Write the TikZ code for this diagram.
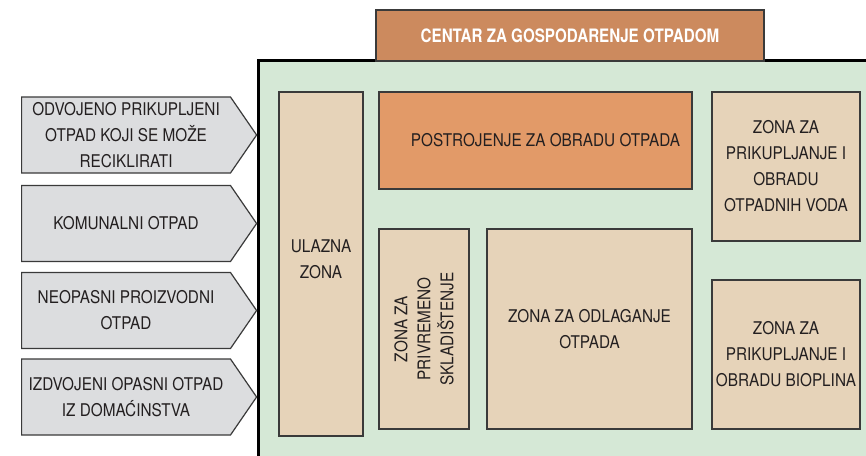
\documentclass[tikz,border=0pt]{standalone}
\usepackage{fontspec}
\setmainfont{TeX Gyre Heros}[FakeStretch=0.875]
\newfontfamily\headfont{TeX Gyre Heros}[FakeStretch=0.82]
\usetikzlibrary{shapes.symbols}
\definecolor{site green}{HTML}{D5E8D6}
\definecolor{zone beige}{HTML}{E6D3B9}
\definecolor{plant orange}{HTML}{E29A68}
\definecolor{header brown}{HTML}{CC8A5E}
\definecolor{waste gray}{HTML}{DCDDDF}
\definecolor{zone edge}{HTML}{3A3A3A}
\definecolor{ink}{HTML}{231F20}
\tikzset{
  zone/.style={draw=zone edge, line width=1.2pt, fill=zone beige, text=ink, align=center, inner sep=0pt, font=\fontsize{17.5}{26}\selectfont},
  plant/.style={zone, fill=plant orange}
  }
\tikzstyle{site} = [draw=black, line width=3pt, fill=site green]
\tikzstyle{header} = [zone, fill=header brown, text=white, font=\headfont\bfseries\fontsize{18.5}{22}\selectfont]
\tikzstyle{waste} = [signal, signal to=east, signal pointer angle=111, draw=zone edge, line width=1.2pt, fill=waste gray, text=ink, align=center, anchor=west, minimum width=235pt, minimum height=76pt, inner sep=0pt, font=\fontsize{17.5}{26}\selectfont]

\begin{document}
\begin{tikzpicture}[x=1pt,y=-1pt]
  \useasboundingbox (0,0) rectangle (866,455);
  \begin{scope}
    \clip (0,0) rectangle (866,455);
    \path[site] (258,60) rectangle (900,490);
  \end{scope}

  \node[header, minimum width=388, minimum height=51] (center) at (570,35.5) {CENTAR ZA GOSPODARENJE OTPADOM};

  \foreach \y/\name/\txt in {135/recycle/{ODVOJENO PRIKUPLJENI\\OTPAD KOJI SE MOŽE\\RECIKLIRATI},
                             223.5/communal/{KOMUNALNI OTPAD},
                             310.5/industry/{NEOPASNI PROIZVODNI\\OTPAD},
                             397/hazard/{IZDVOJENI OPASNI OTPAD\\IZ DOMAĆINSTVA}} {
      \node[waste] (\name) at (21,\y) {\txt};
  }

  \node[zone, minimum width=84, minimum height=344] (entry) at (321,264) {};
  \node[align=center, text=ink, font=\fontsize{17.5}{26}\selectfont] at ([yshift=5]entry.center) {ULAZNA\\ZONA};
  \node[plant, minimum width=313, minimum height=97] (plant) at (535.5,140.5) {\hspace*{20pt}POSTROJENJE ZA OBRADU OTPADA};
  \node[zone, minimum width=90, minimum height=200] (storage) at (424,329) {};
  \node[rotate=90, align=center, text=ink, font=\fontsize{17.5}{23}\selectfont] at (storage) {ZONA ZA\\PRIVREMENO\\SKLADIŠTENJE};
  \node[zone, minimum width=205, minimum height=200] (landfill) at (589.5,329) {ZONA ZA ODLAGANJE\\OTPADA};
  \node[zone, minimum width=148, minimum height=149] (water) at (786,166.5) {ZONA ZA\\PRIKUPLJANJE I\\OBRADU\\OTPADNIH VODA};
  \node[zone, minimum width=148, minimum height=149] (biogas) at (786,354.5) {ZONA ZA\\PRIKUPLJANJE I\\OBRADU BIOPLINA};
%  \draw (recycle) -- (entry);
\end{tikzpicture}
\end{document}
